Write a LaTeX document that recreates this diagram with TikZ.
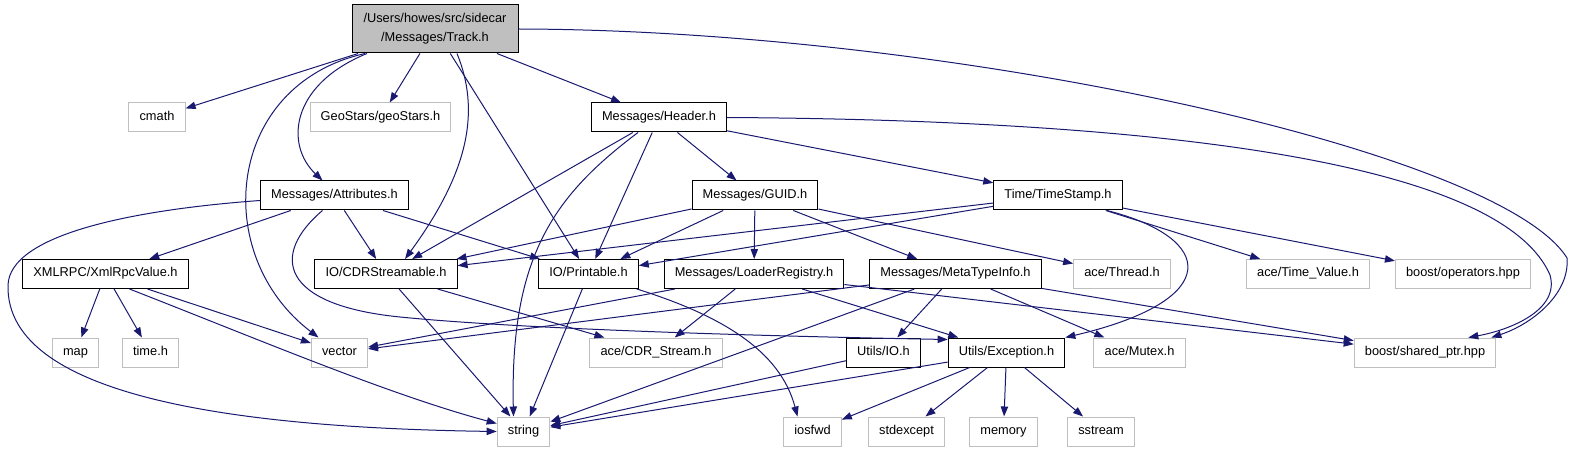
\documentclass[tikz,border=0pt]{standalone}
\usepackage{fontspec}
\setmainfont{Liberation Sans}
\usetikzlibrary{arrows.meta,calc}

\definecolor{edgeblue}{HTML}{191970}
\definecolor{extgrey}{HTML}{BFBFBF}

\tikzset{every picture/.style={line width=0.75pt}}
\tikzset{
  hdr/.style={draw=black, fill=white, rectangle, inner xsep=8pt, inner ysep=0pt,
    minimum height=21.75pt, text height=6.9pt, text depth=3pt,
    font=\fontsize{9.6}{11}\selectfont},
  ext/.style={hdr, draw=extgrey},
  mainhdr/.style={draw=black, fill=extgrey, rectangle, align=center, inner sep=0pt,
    minimum width=124.5pt, minimum height=36pt,
    font=\fontsize{9.6}{14.25}\selectfont},
  dep/.style={draw=edgeblue, -{Triangle[length=7.5pt,width=5.5pt]}},
}

\begin{document}
\begin{tikzpicture}[x=0.75pt,y=0.75pt,yscale=-1,xscale=1]
\useasboundingbox (0,0) rectangle (1587,452);

% Nodes
\node[mainhdr] (track) at (435,29) {/Users/howes/src/sidecar\\/Messages/Track.h};

\node[ext] (cmath) at (157,117.5) {cmath};
\node[ext] (geostars) at (380.5,117.5) {GeoStars/geoStars.h};
\node[hdr] (header) at (659,117.5) {Messages/Header.h};

\node[hdr] (attr) at (334.5,195.5) {Messages/Attributes.h};
\node[hdr] (guid) at (755,195.5) {Messages/GUID.h};
\node[hdr] (stamp) at (1058,195.5) {Time/TimeStamp.h};

\node[hdr] (xmlrpc) at (105.5,274) {XMLRPC/XmlRpcValue.h};
\node[hdr] (cdrs) at (386,274) {IO/CDRStreamable.h};
\node[hdr] (printable) at (588.5,274) {IO/Printable.h};
\node[hdr] (loader) at (754,274) {Messages/LoaderRegistry.h};
\node[hdr] (metatype) at (955.5,274) {Messages/MetaTypeInfo.h};
\node[ext] (thread) at (1122,274) {ace/Thread.h};
\node[ext] (timeval) at (1308,274) {ace/Time\_Value.h};
\node[ext] (operators) at (1463,274) {boost/operators.hpp};

\node[ext] (map) at (75.5,352.5) {map};
\node[ext] (timeh) at (150.5,352.5) {time.h};
\node[ext] (vector) at (339.5,352.5) {vector};
\node[ext] (cdrstream) at (656,352.5) {ace/CDR\_Stream.h};
\node[hdr] (utilsio) at (883.5,352.5) {Utils/IO.h};
\node[hdr] (exc) at (1006.5,352.5) {Utils/Exception.h};
\node[ext] (mutex) at (1139.5,352.5) {ace/Mutex.h};
\node[ext] (shared) at (1425,352.5) {boost/shared\_ptr.hpp};

\node[ext] (string) at (523.5,431.5) {string};
\node[ext] (iosfwd) at (812.5,431.5) {iosfwd};
\node[ext] (stdexcept) at (906.5,431.5) {stdexcept};
\node[ext] (memory) at (1003.5,431.5) {memory};
\node[ext] (sstream) at (1101,431.5) {sstream};

% Track.h
\draw[dep] (track) -- (cmath);
\draw[dep] (track) -- (geostars);
\draw[dep] ($(track.south)+(-68,0)$) .. controls (290,85) and (285,145) .. ($(attr.north)+(-12,0)$);
\draw[dep] ($(track.south)+(-70,0)$) .. controls (225,85) and (210,255) .. ($(vector.north)+(-21,0)$);
\draw[dep] ($(track.south)+(22,0)$) .. controls (480,110) and (470,170) .. ($(cdrs.north)+(19,0)$);
\draw[dep] (track) -- (printable);
\draw[dep] (track) -- (header);
\draw[dep] (track.east) .. controls (950,30) and (1500,150) .. (1567,258)
  .. controls (1570,295) and (1530,325) .. ($(shared.north east)+(-5,0)$);

% Header.h
\draw[dep] (header) -- (cdrs);
\draw[dep] (header) -- (printable);
\draw[dep] ($(header.south)+(-21,0)$) .. controls (555,195) and (510,255) .. ($(string.north)+(-10,0)$);
\draw[dep] (header) -- (guid);
\draw[dep] (header) -- (stamp);
\draw[dep] (header.east) .. controls (1150,120) and (1500,160) .. (1550,275)
  .. controls (1560,310) and (1510,330) .. ($(shared.north east)+(-28,0)$);

% Attributes.h
\draw[dep] ($(attr.west)+(0,5)$) .. controls (130,210) and (10,235) .. (8,285)
  .. controls (5,400) and (250,428) .. (string.west);
\draw[dep] (attr) -- (xmlrpc);
\draw[dep] (attr) -- (cdrs);
\draw[dep] (attr) -- (printable);
\draw[dep] ($(attr.south)+(-12,0)$) .. controls (270,255) and (280,305) .. (400,317)
  .. controls (500,327) and (700,335) .. ($(exc.north west)+(0,2)$);

% XmlRpcValue.h
\draw[dep] (xmlrpc) -- (map);
\draw[dep] (xmlrpc) -- (timeh);
\draw[dep] ($(xmlrpc.south)+(42,0)$) -- (vector);
\draw[dep] ($(xmlrpc.south)+(24,0)$) .. controls (260,340) and (390,395) .. ($(string.north west)+(0,7)$);

% CDRStreamable.h, Printable.h
\draw[dep] (cdrs) -- (string);
\draw[dep] (cdrs) -- (cdrstream);
\draw[dep] (printable) -- (string);
\draw[dep] ($(printable.south east)+(-2,0)$) .. controls (720,315) and (780,350) .. ($(iosfwd.north)+(-15,0)$);

% GUID.h
\draw[dep] (guid) -- (cdrs);
\draw[dep] (guid) -- (printable);
\draw[dep] (guid) -- (loader);
\draw[dep] (guid) -- (metatype);
\draw[dep] (guid) -- (thread);

% TimeStamp.h
\draw[dep] (stamp) -- (cdrs);
\draw[dep] (stamp) -- (printable);
\draw[dep] ($(stamp.south)+(49,0)$) .. controls (1215,238) and (1225,300) .. (exc.north east);
\draw[dep] (stamp) -- (timeval);
\draw[dep] (stamp) -- (operators);

% LoaderRegistry.h
\draw[dep] (loader) -- (vector);
\draw[dep] (loader) -- (cdrstream);
\draw[dep] (loader) -- (exc);
\draw[dep] (loader) -- (shared);

% MetaTypeInfo.h
\draw[dep] (metatype) -- (vector);
\draw[dep] (metatype) -- (string);
\draw[dep] (metatype) -- (utilsio);
\draw[dep] (metatype) -- (mutex);
\draw[dep] (metatype) -- (shared);

% Utils
\draw[dep] (utilsio) -- (string);
\draw[dep] (exc) -- (string);
\draw[dep] (exc) -- (iosfwd);
\draw[dep] (exc) -- (stdexcept);
\draw[dep] (exc) -- (memory);
\draw[dep] (exc) -- (sstream);

\end{tikzpicture}
\end{document}
